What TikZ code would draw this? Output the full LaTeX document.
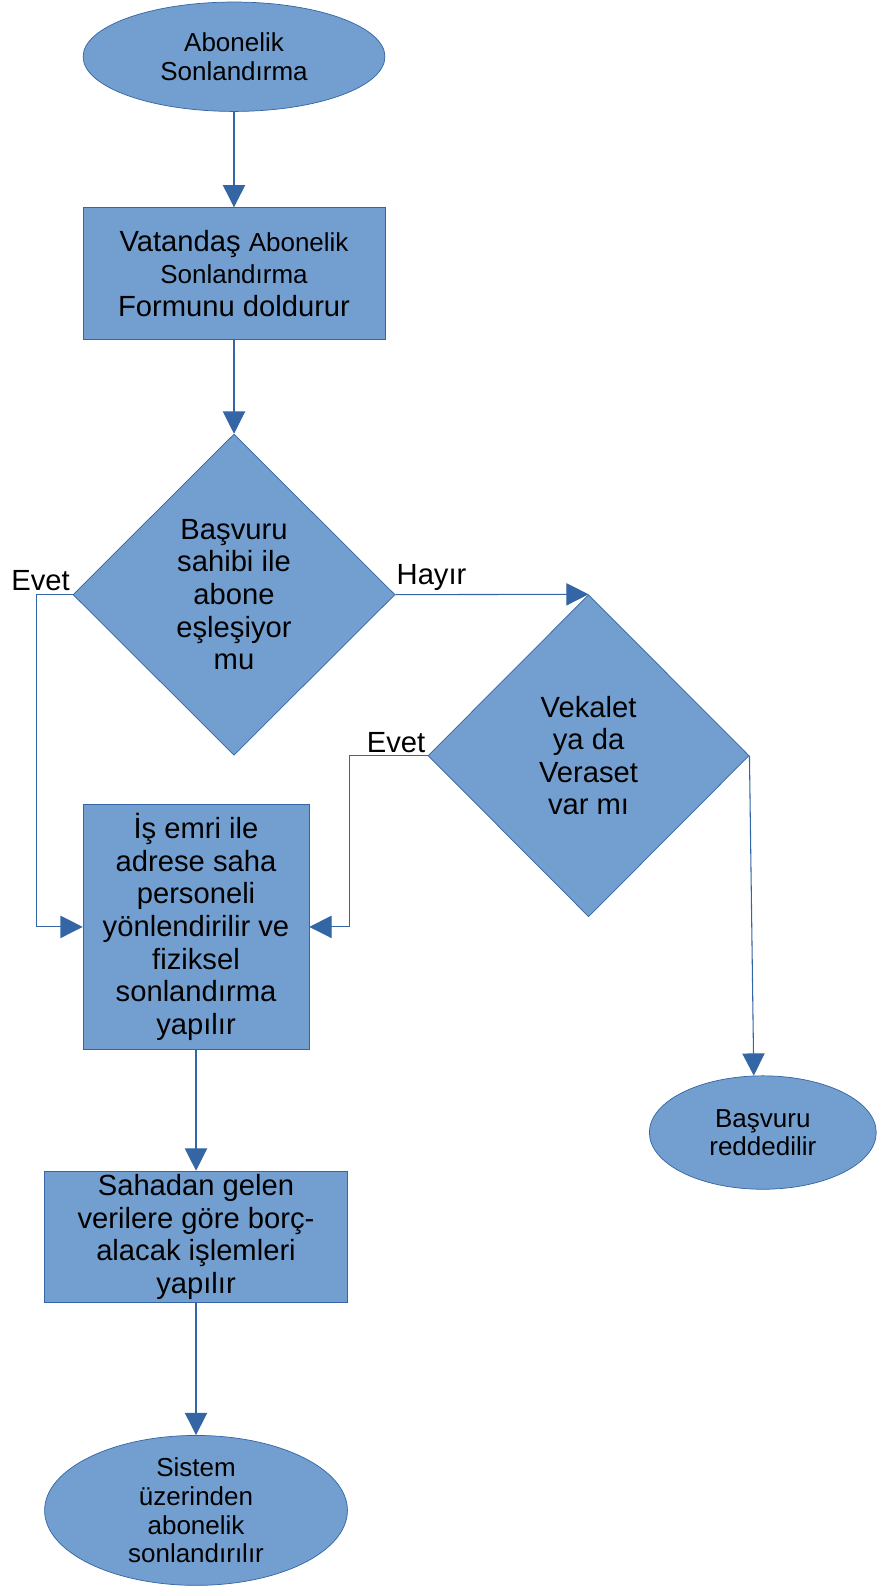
\documentclass[tikz,border=0pt]{standalone}
\usepackage{fontspec}
\setmainfont{Liberation Sans}
\usetikzlibrary{shapes.geometric,arrows.meta}
\definecolor{boxfill}{HTML}{729FCF}
\definecolor{boxline}{HTML}{3465A4}
\newcommand{\bigtxt}{\fontsize{16.4}{18.3}\selectfont}
\newcommand{\smalltxt}{\fontsize{14.6}{16.1}\selectfont}
\tikzset{
	terminal/.style={ellipse, draw=boxline, fill=boxfill, inner sep=0pt, align=center, font=\smalltxt},
	process/.style={rectangle, draw=boxline, fill=boxfill, inner sep=0pt, align=center, font=\bigtxt},
	decision/.style={diamond, draw=boxline, fill=boxfill, inner sep=0pt, align=center, font=\bigtxt},
	flow/.style={draw=boxline, line width=0.6pt, -{Triangle[length=12.5pt, width=12.5pt]}},
	lbl/.style={inner sep=0pt, font=\bigtxt}
}
\begin{document}
\begin{tikzpicture}[x=0.02cm, y=-0.02cm]
	\node[terminal, minimum width=5.96cm, minimum height=2.16cm] (start) at (231,56) {Abonelik\\Sonlandırma};
	\node[process, minimum width=5.96cm, minimum height=2.6cm] (form) at (231,270) {Vatandaş {\smalltxt Abonelik}\\{\smalltxt Sonlandırma}\\Formunu doldurur};
	\node[decision, minimum width=6.36cm, minimum height=6.34cm] (match) at (231,587) {Başvuru\\sahibi ile\\abone\\eşleşiyor\\mu};
	\node[decision, minimum width=6.34cm, minimum height=6.36cm] (proxy) at (581,746) {Vekalet\\ya da\\Veraset\\var mı};
	\node[process, minimum width=4.46cm, minimum height=4.84cm] (work) at (193.5,915) {İş emri ile\\adrese saha\\personeli\\yönlendirilir ve\\fiziksel\\sonlandırma\\yapılır};
	\node[process, minimum width=5.98cm, minimum height=2.6cm] (ledger) at (193.5,1221) {Sahadan gelen\\verilere göre borç-\\alacak işlemleri\\yapılır};
	\node[terminal, minimum width=4.48cm, minimum height=2.24cm] (reject) at (753,1118) {Başvuru\\reddedilir};
	\node[terminal, minimum width=5.98cm, minimum height=2.96cm, inner ysep=-0.15cm] (finish) at (193.5,1491) {Sistem\\üzerinden\\abonelik\\sonlandırılır};

	\node[lbl] (yes1) at (40,573) {Evet};
	\node[lbl] (no1) at (426,570) {Hayır};
	\node[lbl] (yes2) at (391,733) {Evet};

	\draw[flow] (start) -- (form);
	\draw[flow] (form) -- (match);
	\draw[flow] (match.east) -- (proxy.north);
	\draw[flow] (match.west) -- ++(-36,0) |- (work.west);
	\draw[flow] (proxy.west) -- ++(-77,0) |- (work.east);
	\draw[flow] (proxy.east) -- (reject.99);
	\draw[flow] (work) -- (ledger);
	\draw[flow] (ledger) -- (finish);

	\pgfresetboundingbox
	\useasboundingbox (0,0) rectangle (877.6,1568.6);
\end{tikzpicture}
\end{document}
